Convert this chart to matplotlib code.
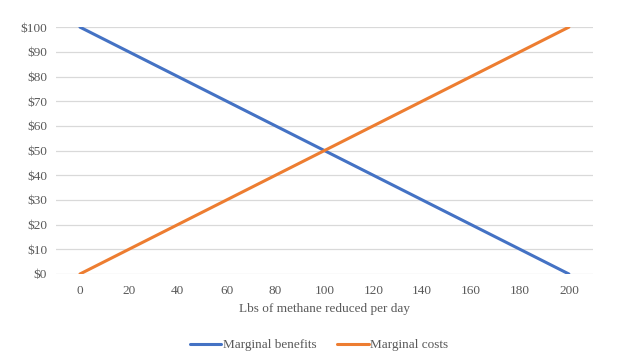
import matplotlib

matplotlib.use("Agg")
import matplotlib.pyplot as plt

plt.rcParams["font.family"] = ["Liberation Serif", "DejaVu Serif"]

lbs_reduced = [0, 20, 40, 60, 80, 100, 120, 140, 160, 180, 200]
marginal_benefits = [100, 90, 80, 70, 60, 50, 40, 30, 20, 10, 0]
marginal_costs = [0, 10, 20, 30, 40, 50, 60, 70, 80, 90, 100]
y_ticks = [0, 10, 20, 30, 40, 50, 60, 70, 80, 90, 100]

TEXT = "#595959"
GRID = "#D9D9D9"

fig = plt.figure(figsize=(6.38, 3.57), dpi=100)
ax = fig.add_axes([0.087, 0.2325, 0.843, 0.6915])

ax.plot(lbs_reduced, marginal_benefits, color="#4472C4", lw=2.2,
        label="Marginal benefits", solid_capstyle="round")
ax.plot(lbs_reduced, marginal_costs, color="#ED7D31", lw=2.2,
        label="Marginal costs", solid_capstyle="round")

ax.set_xlim(-10, 210)
ax.set_ylim(0, 100)
ax.set_xticks(lbs_reduced)
ax.set_yticks(y_ticks)
ax.set_yticklabels([f"${v}" for v in y_ticks])
ax.tick_params(length=0, labelsize=9.5, colors=TEXT)
ax.tick_params(axis="x", pad=8)
ax.tick_params(axis="y", pad=6)
for side in ax.spines:
    ax.spines[side].set_visible(False)
ax.grid(axis="y", color=GRID, lw=0.9)
ax.set_axisbelow(True)
ax.set_xlabel("Lbs of methane reduced per day", fontsize=9.5, color=TEXT, labelpad=4)

fig.legend(loc="center", bbox_to_anchor=(0.5, 0.033), ncol=2, frameon=False,
           fontsize=9.5, labelcolor=TEXT, handlelength=2.4, handletextpad=0.1,
           columnspacing=1.6)

fig.savefig("out.png", dpi=100)
